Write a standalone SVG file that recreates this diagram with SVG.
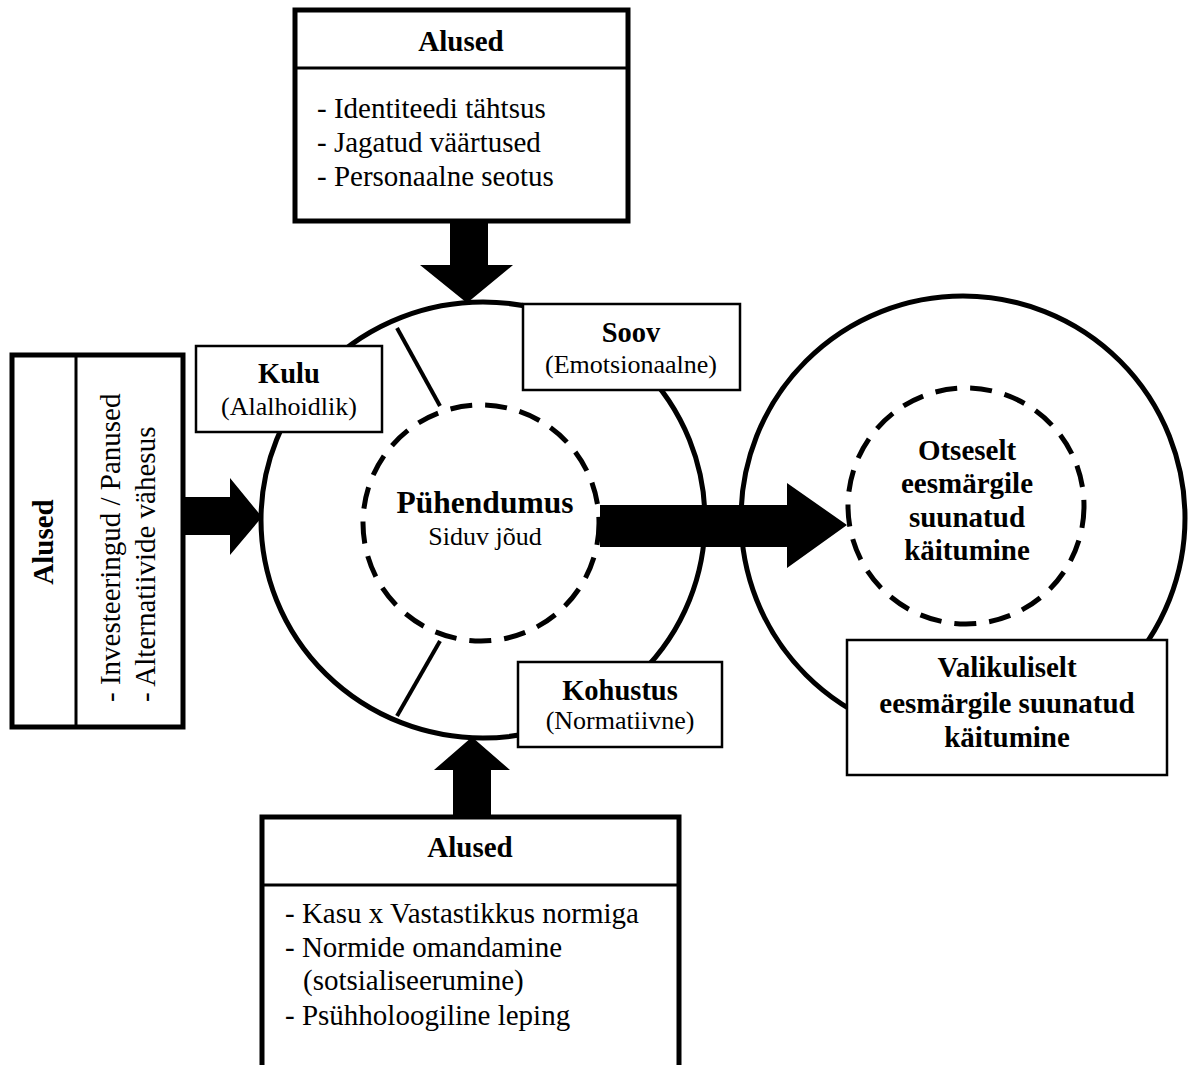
<svg xmlns="http://www.w3.org/2000/svg" width="1191" height="1065" viewBox="0 0 1191 1065">
<style>
text{font-family:"Liberation Serif","Times New Roman",serif;fill:#000}
.b{font-weight:bold}
.lst{font-size:29px}
.hd{font-size:29px;font-weight:bold}
.lab{font-size:26px}
.labb{font-size:28.5px;font-weight:bold}
.mid{text-anchor:middle}
.thick{fill:#fff;stroke:#000;stroke-width:5}
.thin{fill:#fff;stroke:#000;stroke-width:2.5}
.sep{stroke:#000;stroke-width:3;fill:none}
.ring{fill:none;stroke:#000;stroke-width:5}
.dash{fill:none;stroke:#000;stroke-width:5;stroke-dasharray:22 13}
.arrow{fill:#000;stroke:none}
</style>
<rect width="1191" height="1065" fill="#fff"/>
<g id="ring-commitment">
<ellipse class="ring" cx="483" cy="520" rx="222" ry="218"/>
<line class="sep" x1="397" y1="328" x2="440" y2="406" style="stroke-width:4"/>
<line class="sep" x1="440" y1="641" x2="397" y2="716" style="stroke-width:4"/>
<circle class="dash" cx="481" cy="523" r="118"/>
<text class="mid b" x="485" y="513" style="font-size:31.5px">Pühendumus</text>
<text class="mid lab" x="485" y="545">Siduv jõud</text>
</g>
<g id="ring-behaviour">
<circle class="ring" cx="963" cy="518" r="222"/>
<circle class="dash" cx="966" cy="506" r="118"/>
<text class="mid hd" x="967" y="460">Otseselt</text>
<text class="mid hd" x="967" y="493">eesmärgile</text>
<text class="mid hd" x="967" y="527">suunatud</text>
<text class="mid hd" x="967" y="560">käitumine</text>
</g>
<g id="connectors">
<path class="arrow" d="M450,222 H488 V265 H513 L467,303 L420,265 H450 Z"/>
<path class="arrow" d="M453,819 V770 H434 L472,737 L510,770 H491 V819 Z"/>
<path class="arrow" d="M183,497 H230 V478 L262,517 L230,555 V535 H183 Z"/>
<path class="arrow" d="M600,505 H787 V483 L847,525 L787,568 V547 H600 Z"/>
</g>
<g id="box-top">
<rect class="thick" x="295" y="10" width="333" height="211"/>
<line class="sep" x1="295" y1="68" x2="628" y2="68"/>
<text class="mid hd" x="461" y="51">Alused</text>
<text class="lst" x="317" y="118">- Identiteedi tähtsus</text>
<text class="lst" x="317" y="152">- Jagatud väärtused</text>
<text class="lst" x="317" y="186">- Personaalne seotus</text>
</g>
<g id="box-left">
<rect class="thick" x="12" y="355" width="171" height="372"/>
<line class="sep" x1="76" y1="355" x2="76" y2="727"/>
<text class="mid hd" transform="translate(53,542) rotate(-90)">Alused</text>
<text class="lst" transform="translate(120,702) rotate(-90)">- Investeeringud / Panused</text>
<text class="lst" transform="translate(155,702) rotate(-90)">- Alternatiivide vähesus</text>
</g>
<g id="box-bottom">
<rect class="thick" x="262" y="817" width="417" height="280"/>
<line class="sep" x1="262" y1="885" x2="679" y2="885"/>
<text class="mid hd" x="470" y="857">Alused</text>
<text class="lst" x="285" y="923">- Kasu x Vastastikkus normiga</text>
<text class="lst" x="285" y="957">- Normide omandamine</text>
<text class="lst" x="303" y="990">(sotsialiseerumine)</text>
<text class="lst" x="285" y="1025">- Psühholoogiline leping</text>
</g>
<g id="label-kulu">
<rect class="thin" x="196" y="346" width="186" height="86"/>
<text class="mid labb" x="289" y="383">Kulu</text>
<text class="mid lab" x="289" y="415">(Alalhoidlik)</text>
</g>
<g id="label-soov">
<rect class="thin" x="523" y="304" width="217" height="86"/>
<text class="mid labb" x="631" y="342">Soov</text>
<text class="mid lab" x="631" y="373">(Emotsionaalne)</text>
</g>
<g id="label-kohustus">
<rect class="thin" x="518" y="662" width="204" height="85"/>
<text class="mid labb" x="620" y="700">Kohustus</text>
<text class="mid lab" x="620" y="729">(Normatiivne)</text>
</g>
<g id="label-valikuliselt">
<rect class="thin" x="847" y="640" width="320" height="135"/>
<text class="mid hd" x="1007" y="677">Valikuliselt</text>
<text class="mid hd" x="1007" y="713">eesmärgile suunatud</text>
<text class="mid hd" x="1007" y="747">käitumine</text>
</g>
</svg>
